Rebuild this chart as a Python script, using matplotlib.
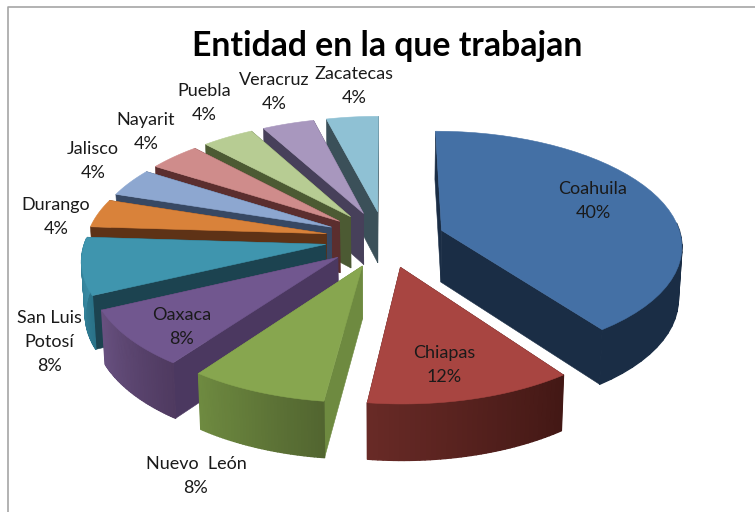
import numpy as np
import matplotlib
matplotlib.use("Agg")
import matplotlib.pyplot as plt
from matplotlib.patches import Polygon

entidades = ["Coahuila", "Chiapas", "Nuevo  León", "Oaxaca", "San Luis\nPotosí", "Durango",
             "Jalisco", "Nayarit", "Puebla", "Veracruz", "Zacatecas"]
porcentajes = [40, 12, 8, 8, 8, 4, 4, 4, 4, 4, 4]

tops = ["#4470A5", "#A84541", "#87A64F", "#71578F", "#3F95AE", "#D9823A",
        "#8DA7D0", "#CF8C8B", "#B7CC93", "#A897BE", "#8FC1D4"]
radial = ["#1A2D45", "#431815", "#6E8A40", "#4B3860", "#1C4350", "#5E3216",
          "#374863", "#5B2E2E", "#4C5A33", "#47405A", "#3B5059"]
rim_a = ["#1A2D45", "#431815", "#526530", "#4F3A60", "#2A7288", "#9A5A25",
         "#647A9A", "#96605F", "#84965F", "#77688E", "#64909F"]
rim_b = ["#1A2D45", "#682A26", "#6E8A40", "#67507F", "#3A8CA5", "#B5702C",
         "#7188AC", "#AE706F", "#96A96E", "#8A79A0", "#75A4B4"]

label_xy = [(593, 201), (444, 365), (196, 476), (182, 327), (49, 342), (56, 217),
            (93, 161), (146, 132), (204, 103), (274, 92), (354, 86)]

# pie projection, all in pixels
CX, CY = 385, 239
RX, RY = 240, 113
PERSP = 0.12
EXPLODE = 0.25
DEPTH = 52


def project(x, y, z=0.0):
    s = 1 / (1 - PERSP * y)
    px = CX + RX * x * s * (1 - 0.012 * z)
    py = CY + RY * y * s + DEPTH * z * (1 + 0.07 * y)
    return px, py


def mix(c1, c2, t):
    a = np.array(matplotlib.colors.to_rgb(c1))
    b = np.array(matplotlib.colors.to_rgb(c2))
    return a + (b - a) * t


fig = plt.figure(figsize=(7.55, 5.12), dpi=100)
ax = fig.add_axes([0, 0, 1, 1])
ax.set_xlim(0, 755)
ax.set_ylim(512, 0)
ax.axis("off")

# chart frame, the right side is cut off in the picture
ax.plot([8, 8, 755], [512, 7, 7], color="#a6a6a6", lw=1.2)

fracs = np.array(porcentajes) / sum(porcentajes)
ends = np.cumsum(fracs) * 2 * np.pi
starts = ends - fracs * 2 * np.pi

# back slices first, so the nearer ones cover them
for i in range(len(porcentajes) - 1, -1, -1):
    mid = (starts[i] + ends[i]) / 2
    ex, ey = EXPLODE * np.sin(mid), -EXPLODE * np.cos(mid)
    th = np.linspace(starts[i], ends[i], 41)
    xs = ex + np.sin(th)
    ys = ey - np.cos(th)

    for j in [0, -1]:
        wall = [project(ex, ey), project(xs[j], ys[j]), project(xs[j], ys[j], 1), project(ex, ey, 1)]
        ax.add_patch(Polygon(wall, closed=True, fc=radial[i], ec=radial[i], lw=0.4))

    for j in range(len(th) - 1):
        # the back of the rim can't be seen
        if -np.cos(th[j]) < -0.05 and -np.cos(th[j + 1]) < -0.05:
            continue
        t = j / (len(th) - 2)
        c = mix(rim_a[i], rim_b[i], t)
        seg = [project(xs[j], ys[j]), project(xs[j + 1], ys[j + 1]),
               project(xs[j + 1], ys[j + 1], 1), project(xs[j], ys[j], 1)]
        ax.add_patch(Polygon(seg, closed=True, fc=c, ec=c, lw=1.0, joinstyle="round"))

    top = [project(ex, ey)] + [project(a, b) for a, b in zip(xs, ys)]
    ax.add_patch(Polygon(top, closed=True, fc=tops[i], ec=tops[i], lw=0.4))

for name, val, (lx, ly) in zip(entidades, porcentajes, label_xy):
    ax.text(lx, ly, f"{name}\n{val}%", ha="center", va="center", family="Lato",
            fontsize=13, color="#1a1a1a", linespacing=1.65)

ax.text(387, 46, "Entidad en la que trabajan", ha="center", va="center", family="Lato",
        fontsize=24.3, fontweight="bold", color="black")

fig.savefig("out.png", dpi=100)
